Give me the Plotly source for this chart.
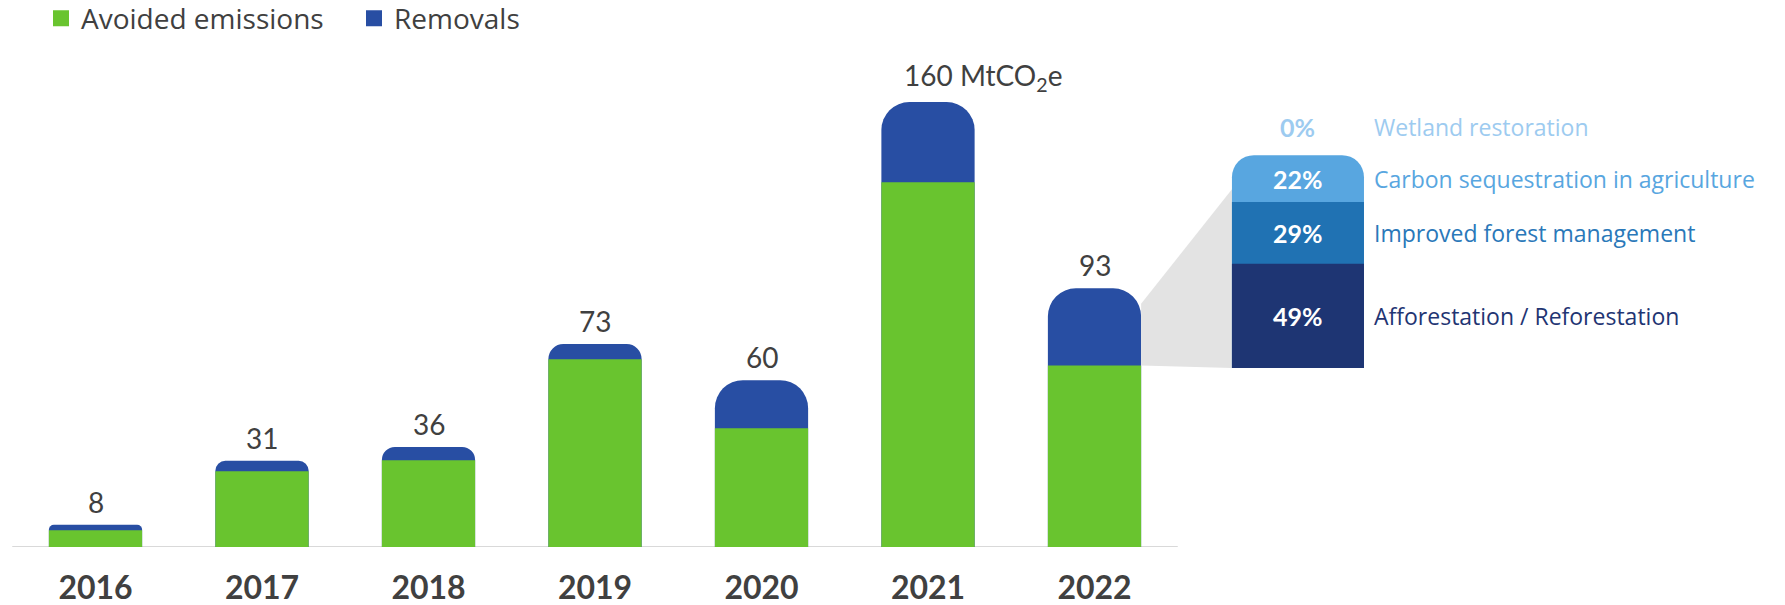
import plotly.graph_objects as go

# ---------------- data ----------------
years = ["2016", "2017", "2018", "2019", "2020", "2021", "2022"]
avoided = [6.0, 27.2, 31.2, 67.5, 42.7, 131.2, 65.3]
removals = [2.0, 3.8, 4.8, 5.5, 17.3, 28.8, 27.7]
total_labels = ["8", "31", "36", "73", "60", "160", "93"]
unit_label = "MtCO<sub>2</sub>e"

breakdown_names = ["Afforestation / Reforestation", "Improved forest management",
                   "Carbon sequestration in agriculture", "Wetland restoration"]
breakdown_pct = [49, 29, 22, 0]

# ---------------- style ----------------
GREEN = "#69c42f"
BLUE = "#284ea3"
SEG_COLORS = ["#1e3573", "#2072b3", "#58a6e0", "#9dcbf0"]
LBL_COLORS = ["#1f3573", "#2a78b9", "#58a6e0", "#9dcbf0"]
TEXT = "#404040"
FONT = "Lato"
FONT2 = "Open Sans"

W, H = 1785, 605
L, B = 0, 58
PX_PER_SLOT = 166.5
PX_PER_UNIT = 2.781
BAR_W = 0.56
CAP_R = 28              # px, rounding of the removals cap
INSET_X = 7.222
INSET_W = 0.793
INSET_H = 76.5          # drawn height of the breakdown column (y units)
INSET_BASE = 64.4       # bottom of the breakdown column (y units)
INSET_R = 22            # px

xs = list(range(len(years)))
totals = [a + r for a, r in zip(avoided, removals)]

fig = go.Figure()

# connector wedge from the 2022 removals segment to the breakdown column
bx = xs[-1] + BAR_W / 2
ix = INSET_X - INSET_W / 2
fig.add_trace(go.Scatter(
    x=[bx, ix, ix, bx, bx],
    y=[avoided[-1] + 0.8 * removals[-1], INSET_BASE + 0.84 * INSET_H, INSET_BASE,
       avoided[-1], avoided[-1] + 0.8 * removals[-1]],
    fill="toself", fillcolor="#e3e3e3", mode="none",
    showlegend=False, hoverinfo="skip"))

# removals: drawn as full-height columns (rounded top), avoided drawn over them
for x, t, r in zip(xs, totals, removals):
    rad = min(CAP_R, r * PX_PER_UNIT)
    fig.add_trace(go.Bar(x=[x], y=[t], width=[BAR_W], name="Removals", showlegend=False,
                         marker=dict(color=BLUE, cornerradius=rad, line=dict(width=0))))
fig.add_trace(go.Bar(
    x=xs, y=avoided, width=[BAR_W] * len(xs), showlegend=False,
    name="Avoided emissions", marker=dict(color=GREEN, cornerradius=0, line=dict(width=0))))

# legend entries
fig.add_trace(go.Scatter(x=[None], y=[None], mode="markers", name="Avoided emissions",
                         marker=dict(symbol="square", size=16, color=GREEN)))
fig.add_trace(go.Scatter(x=[None], y=[None], mode="markers", name="Removals",
                         marker=dict(symbol="square", size=16, color=BLUE)))

# breakdown column on its own overlaid axes whose zero sits at INSET_BASE
seg_h = [p / 100 * INSET_H for p in breakdown_pct]
cum = []
acc = 0
for h in seg_h:
    acc += h
    cum.append(acc)
inset_top = INSET_BASE + acc
order = [i for i in range(len(seg_h)) if seg_h[i] > 0][::-1]   # tallest first
for k, i in enumerate(order):
    fig.add_trace(go.Bar(
        x=[INSET_X], y=[cum[i]], width=[INSET_W], name=breakdown_names[i], showlegend=False,
        xaxis="x2", yaxis="y2",
        marker=dict(color=SEG_COLORS[i], line=dict(width=0),
                    cornerradius=INSET_R if k == 0 else 0)))

annotations = []
# total labels
for x, t, lab in zip(xs, totals, total_labels):
    if x == 5:
        annotations.append(dict(x=x, y=t, xref="x", yref="y", text=lab + " " + unit_label,
                                showarrow=False, xanchor="left", yanchor="bottom",
                                xshift=-26, yshift=4,
                                font=dict(family=FONT, size=28, color=TEXT)))
    else:
        annotations.append(dict(x=x, y=t, xref="x", yref="y", text=lab, showarrow=False,
                                xanchor="center", yanchor="bottom", yshift=4,
                                font=dict(family=FONT, size=28, color=TEXT)))

# breakdown labels
for i, (name, p, h) in enumerate(zip(breakdown_names, breakdown_pct, seg_h)):
    if h > 0:
        yy, ysh, pc = INSET_BASE + cum[i] - h / 2, 0, "white"
    else:
        yy, ysh, pc = inset_top, 28, LBL_COLORS[i]
    annotations.append(dict(x=INSET_X, y=yy, xref="x", yref="y", text="<b>%d%%</b>" % p,
                            showarrow=False, xanchor="center", yanchor="middle", yshift=ysh,
                            font=dict(family=FONT, size=25, color=pc)))
    annotations.append(dict(x=INSET_X + INSET_W / 2, y=yy, xref="x", yref="y", text=name,
                            showarrow=False, xanchor="left", yanchor="middle", yshift=ysh,
                            xshift=8, font=dict(family=FONT2, size=23, color=LBL_COLORS[i])))

x0 = -0.5 - 12.25 / PX_PER_SLOT
x1 = x0 + W / PX_PER_SLOT
YR = [0, (H - B) / PX_PER_UNIT]

fig.update_layout(
    width=W, height=H, barmode="overlay",
    margin=dict(l=L, r=0, t=0, b=B, autoexpand=False),
    plot_bgcolor="white", paper_bgcolor="white",
    font=dict(family=FONT, color=TEXT),
    xaxis=dict(range=[x0, x1], tickmode="array", tickvals=xs, ticktext=years,
               showgrid=False, zeroline=False, showline=False,
               ticks="outside", ticklen=13, tickcolor="rgba(0,0,0,0)",
               tickfont=dict(family=FONT, size=32, color=TEXT, weight="bold"),
               fixedrange=True),
    yaxis=dict(range=YR, visible=False, fixedrange=True),
    xaxis2=dict(range=[x0, x1], overlaying="x", visible=False, fixedrange=True),
    yaxis2=dict(range=[YR[0] - INSET_BASE, YR[1] - INSET_BASE], overlaying="y",
                visible=False, fixedrange=True),
    shapes=[dict(type="line", xref="x", yref="y", x0=-0.5, x1=6.5, y0=0, y1=0,
                 line=dict(color="#d9d9d9", width=2), layer="below")],
    annotations=annotations,
    legend=dict(orientation="h", x=41 / W, xanchor="left", y=1.012, yanchor="top",
                font=dict(family=FONT2, size=28, color=TEXT), entrywidth=268,
                bgcolor="rgba(0,0,0,0)", traceorder="normal"),
    showlegend=True,
)

fig.write_html("out.html", config={"displayModeBar": False},
               post_script="document.body.style.margin='0';document.body.style.overflow='hidden';")
